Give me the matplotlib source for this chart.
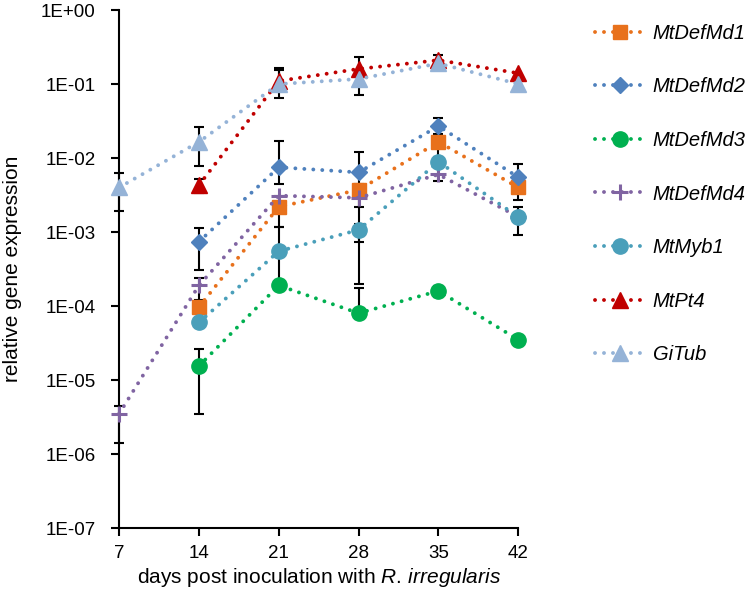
import numpy as np
import matplotlib
matplotlib.use('Agg')
import matplotlib.pyplot as plt
from matplotlib.ticker import FixedLocator, FuncFormatter, NullLocator

plt.rcParams['font.family'] = ['Liberation Sans', 'DejaVu Sans']
plt.rcParams['mathtext.fontset'] = 'custom'
plt.rcParams['mathtext.rm'] = 'Liberation Sans'
plt.rcParams['mathtext.it'] = 'Liberation Sans:italic'

nan = np.nan
days = [7, 14, 21, 28, 35, 42]

# mean expression per gene
MtDefMd1 = [nan, 9.7e-5, 2.2e-3, 3.7e-3, 1.65e-2, 4.0e-3]
MtDefMd2 = [nan, 7.4e-4, 7.5e-3, 6.4e-3, 2.7e-2, 5.5e-3]
MtDefMd3 = [nan, 1.55e-5, 1.9e-4, 8.0e-5, 1.6e-4, 3.5e-5]
MtDefMd4 = [3.5e-6, 1.9e-4, 3.1e-3, 2.9e-3, 6.0e-3, 1.6e-3]
MtMyb1 = [nan, 6.0e-5, 5.5e-4, 1.07e-3, 8.9e-3, 1.6e-3]
MtPt4 = [nan, 4.3e-3, 0.11, 0.16, 0.21, 0.14]
GiTub = [4.0e-3, 1.65e-2, 0.10, 0.117, 0.19, 0.10]

# error bar ends (low / high)
MtDefMd1_lo = [nan, nan, 1.17e-3, 7.3e-4, 1.03e-2, 2.7e-3]
MtDefMd1_hi = [nan, nan, 3.1e-3, 4.5e-3, 2.0e-2, 5.0e-3]
MtDefMd2_lo = [nan, 3.1e-4, 4.5e-3, 2.2e-3, 2.1e-2, 4.5e-3]
MtDefMd2_hi = [nan, 1.12e-3, 1.7e-2, 1.2e-2, 3.5e-2, 8.3e-3]
MtDefMd3_lo = [nan, 3.5e-6, nan, 6.8e-5, 1.32e-4, nan]
MtDefMd3_hi = [nan, 2.6e-5, nan, 1.75e-4, 1.87e-4, nan]
MtDefMd4_lo = [1.4e-6, 1.2e-4, nan, nan, 4.9e-3, nan]
MtDefMd4_hi = [4.5e-6, 2.4e-4, nan, nan, 7.5e-3, nan]
MtMyb1_lo = [nan, nan, 1.9e-4, 2.0e-4, nan, 9.1e-4]
MtMyb1_hi = [nan, nan, 1.17e-3, 1.3e-3, nan, 2.2e-3]
MtPt4_lo = [nan, 3.4e-3, 0.08, 0.094, 0.16, nan]
MtPt4_hi = [nan, 5.2e-3, 0.155, 0.23, 0.25, nan]
GiTub_lo = [1.9e-3, 7.8e-3, 0.065, 0.071, nan, nan]
GiTub_hi = [6.3e-3, 2.6e-2, 0.165, 0.15, nan, nan]

series = [
    ('MtDefMd1', MtDefMd1, MtDefMd1_lo, MtDefMd1_hi, '#E8711C', 's', 10),
    ('MtDefMd2', MtDefMd2, MtDefMd2_lo, MtDefMd2_hi, '#4F81BD', 'D', 8.5),
    ('MtDefMd3', MtDefMd3, MtDefMd3_lo, MtDefMd3_hi, '#00B050', 'o', 11),
    ('MtDefMd4', MtDefMd4, MtDefMd4_lo, MtDefMd4_hi, '#8064A2', '+', 11),
    ('MtMyb1', MtMyb1, MtMyb1_lo, MtMyb1_hi, '#4A9FBA', 'o', 11),
    ('MtPt4', MtPt4, MtPt4_lo, MtPt4_hi, '#C00000', '^', 11),
    ('GiTub', GiTub, GiTub_lo, GiTub_hi, '#95B3D7', '^', 11),
]

fig = plt.figure(figsize=(7.49, 5.90), dpi=100)
ax = fig.add_axes([0.159, 0.105, 0.533, 0.878])

x_all = np.array(days, dtype=float)
for name, vals, lo, hi, col, mk, ms in series:
    v = np.array(vals)
    lo = np.array(lo)
    hi = np.array(hi)
    ok = ~np.isnan(v)
    # error bars
    e = ok & ~np.isnan(lo)
    if e.any():
        ax.errorbar(x_all[e], v[e], yerr=[v[e] - lo[e], hi[e] - v[e]],
                    fmt='none', ecolor='black', elinewidth=1.5,
                    capsize=3.5, capthick=1.5, zorder=2, clip_on=False)
    ax.plot(x_all[ok], v[ok], color=col, lw=2.8,
            linestyle=(0, (0.01, 2.3)), dash_capstyle='round',
            marker=mk, markersize=ms, markeredgewidth=2.2 if mk == '+' else 1,
            markerfacecolor=col, markeredgecolor=col,
            label=name, zorder=3, clip_on=False)

ax.set_yscale('log')
ax.set_ylim(1e-7, 1)
ax.set_xlim(7, 42)
ax.xaxis.set_major_locator(FixedLocator(days))
ax.yaxis.set_major_locator(FixedLocator([10.0 ** k for k in range(-7, 1)]))
ax.yaxis.set_minor_locator(NullLocator())
ax.yaxis.set_major_formatter(FuncFormatter(lambda v, p: f"{v:.0E}"))

for s in ['top', 'right']:
    ax.spines[s].set_visible(False)
for s in ['left', 'bottom']:
    ax.spines[s].set_linewidth(1.5)
ax.tick_params(axis='both', which='major', direction='out', length=6,
               width=1.5, labelsize=13.5)
ax.tick_params(axis='y', pad=11)
ax.tick_params(axis='x', pad=6)

ax.set_ylabel('relative gene expression', fontsize=15)
ax.yaxis.set_label_coords(-0.243, 0.5)
ax.set_xlabel(r'days post inoculation with $\mathit{R.\,irregularis}$',
              fontsize=15, labelpad=3)

leg = fig.legend(loc='upper left', bbox_to_anchor=(0.795, 0.96),
                 frameon=False, prop={'style': 'italic', 'size': 14.5},
                 handlelength=2.4, handletextpad=0.45, labelspacing=1.72,
                 borderpad=0, borderaxespad=0)

fig.savefig('out.png', dpi=100)
